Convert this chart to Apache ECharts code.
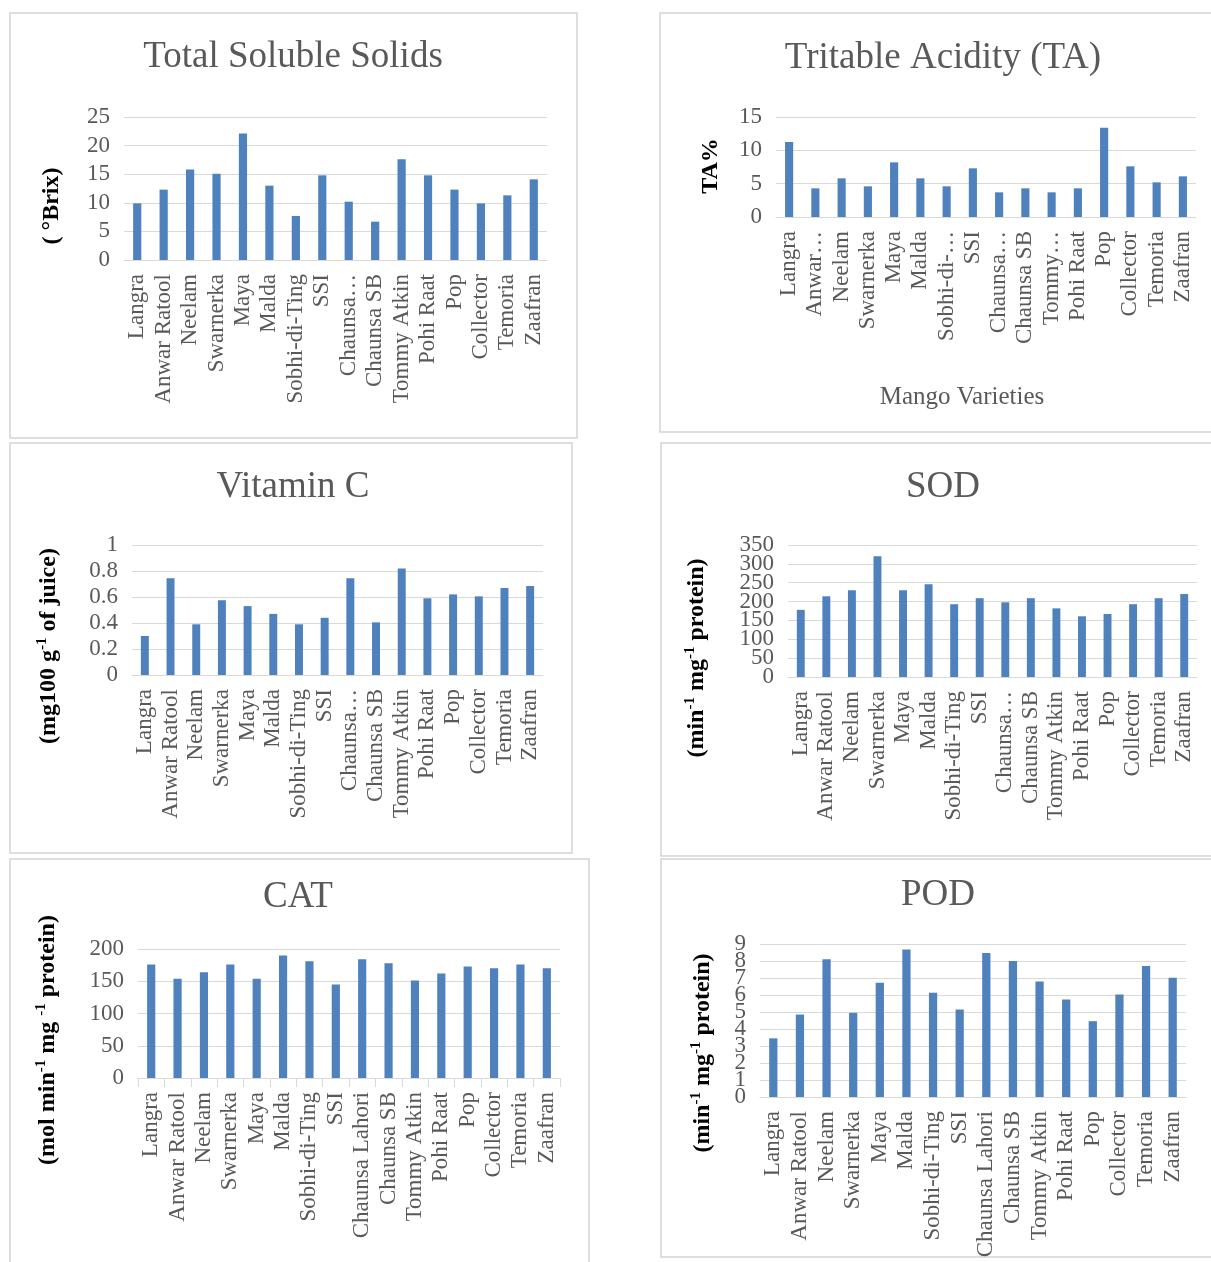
<!DOCTYPE html>
<html>
<head>
<meta charset="utf-8">
<script src="https://cdn.jsdelivr.net/npm/echarts@6/dist/echarts.min.js"></script>
<style>
html,body{margin:0;padding:0;background:#fff;}
#chart{width:1211px;height:1262px;}
</style>
</head>
<body>
<div id="chart"></div>
<script>
// ---- DATA ----
const varieties = ['Langra','Anwar Ratool','Neelam','Swarnerka','Maya','Malda','Sobhi-di-Ting','SSI','Chaunsa Lahori','Chaunsa SB','Tommy Atkin','Pohi Raat','Pop','Collector','Temoria','Zaafran'];
const labelsShort = ['Langra','Anwar Ratool','Neelam','Swarnerka','Maya','Malda','Sobhi-di-Ting','SSI','Chaunsa…','Chaunsa SB','Tommy Atkin','Pohi Raat','Pop','Collector','Temoria','Zaafran'];
const labelsTA = ['Langra','Anwar…','Neelam','Swarnerka','Maya','Malda','Sobhi-di-…','SSI','Chaunsa…','Chaunsa SB','Tommy…','Pohi Raat','Pop','Collector','Temoria','Zaafran'];
const labelsFull = varieties;

const tssValues = [9.9, 12.3, 15.8, 15.1, 22.1, 13.0, 7.7, 14.8, 10.2, 6.7, 17.6, 14.8, 12.3, 9.9, 11.3, 14.1];
const taValues = [11.25, 4.3, 5.8, 4.6, 8.2, 5.8, 4.6, 7.3, 3.7, 4.3, 3.7, 4.3, 13.4, 7.6, 5.2, 6.1];
const vitCValues = [0.30, 0.745, 0.39, 0.575, 0.53, 0.47, 0.39, 0.44, 0.745, 0.405, 0.82, 0.59, 0.62, 0.605, 0.67, 0.685];
const sodValues = [178, 214, 230, 320, 230, 246, 193, 209, 198, 209, 182, 161, 167, 193, 209, 220];
const catValues = [176, 154, 164, 176, 154, 190, 181, 145, 184, 178, 151, 162, 173, 170, 176, 170];
const podValues = [3.45, 4.85, 8.1, 4.95, 6.72, 8.68, 6.13, 5.15, 8.47, 8.0, 6.8, 5.74, 4.46, 6.03, 7.7, 7.01];

const titles = ['Total Soluble Solids','Tritable Acidity (TA)','Vitamin C','SOD','CAT','POD'];
const yMax = [25, 15, 1, 350, 200, 9];
const yInterval = [5, 5, 0.2, 50, 50, 1];

// ---- LAYOUT ----
const FONT = "'Liberation Serif','Times New Roman',serif";
const GREY = '#595959';
const GRIDC = '#d9d9d9';
const BAR = '#4f81bd';

const panels = [
  {box:[10,13,567,425], grid:{left:124,top:117,width:423,height:143}, title:[293,57], labels:labelsShort, values:tssValues},
  {box:[660,13,560,419], grid:{left:776,top:117,width:420,height:100}, title:[943,58], labels:labelsTA, values:taValues},
  {box:[10,443,562,410], grid:{left:132,top:545,width:411,height:130}, title:[293,487], labels:labelsShort, values:vitCValues},
  {box:[661,443,560,413], grid:{left:788,top:545,width:409,height:132}, title:[943,487], labels:labelsShort, values:sodValues},
  {box:[10,859,579,410], grid:{left:138,top:949,width:422,height:129}, title:[298,897], labels:labelsFull, values:catValues, ticks:true},
  {box:[661,859,560,398], grid:{left:760,top:944,width:426,height:153}, title:[938,895], labels:labelsFull, values:podValues}
];

const yNames = [
  {x:52, y:206, text:'{b|( °Brix)}'},
  {x:711, y:166, text:'{b|TA%}'},
  {x:49, y:646, text:'{b|(mg100 g}{s|-1}{b| of juice)}'},
  {x:697, y:658, text:'{b|(min}{s|-1}{b| mg}{s|-1}{b| protein)}'},
  {x:48, y:1040, text:'{b|(mol min}{s|-1}{b| mg }{s|-1}{b| protein)}'},
  {x:703, y:1053, text:'{b|(min}{s|-1}{b| mg}{s|-1}{b| protein)}'}
];

const richStyle = {
  b:{fontFamily:FONT, fontWeight:'bold', fontSize:24, color:GREY, lineHeight:28},
  s:{fontFamily:FONT, fontWeight:'bold', fontSize:15, color:GREY, verticalAlign:'top', lineHeight:16}
};

// two stacked value axes per grid (even / odd tick labels) so that crowded labels all stay visible
function yAxisFor(i, parity, primary){
  return {
    type:'value', gridIndex:i, position:'left', offset:0, min:0, max:yMax[i], interval:yInterval[i],
    axisLine:{show:false}, axisTick:{show:false},
    splitLine:{show:primary, lineStyle:{color:GRIDC, width:1}},
    axisLabel:{
      margin:14, fontFamily:FONT, fontSize:23, color:GREY, showMinLabel:true, showMaxLabel:true, hideOverlap:false,
      formatter:(v, idx)=> (idx % 2 === parity ? String(v) : '')
    }
  };
}

const option = {
  backgroundColor:'#ffffff',
  animation:false,
  title: panels.map((p,i)=>({
    text: titles[i], left:p.title[0], top:p.title[1], textAlign:'center', textVerticalAlign:'middle', padding:0,
    textStyle:{fontFamily:FONT, fontSize:37, fontWeight:'normal', color:GREY}
  })),
  grid: panels.map(p=>Object.assign({}, p.grid)),
  xAxis: panels.map((p,i)=>({
    type:'category', gridIndex:i, data:p.labels,
    axisLine:{show:true, lineStyle:{color:GRIDC, width:1}},
    axisTick:{show:!!p.ticks, alignWithLabel:false, length:9, lineStyle:{color:GRIDC}},
    axisLabel:{interval:0, rotate:90, margin:14, fontFamily:FONT, fontSize:23, color:GREY, hideOverlap:false}
  })),
  yAxis: panels.map((p,i)=>yAxisFor(i, 0, true)).concat(panels.map((p,i)=>yAxisFor(i, 1, false))),
  series: panels.map((p,i)=>({
    type:'bar', xAxisIndex:i, yAxisIndex:i, data:p.values, barWidth:'31%',
    itemStyle:{color:BAR}
  })),
  graphic: [].concat(
    panels.map(p=>({
      type:'rect', silent:true, z:-1,
      shape:{x:p.box[0], y:p.box[1], width:p.box[2], height:p.box[3]},
      style:{fill:'none', stroke:'#d4d4d4', lineWidth:1.5}
    })),
    yNames.map(n=>({
      type:'text', x:n.x, y:n.y, rotation:Math.PI/2,
      style:{text:n.text, rich:richStyle, align:'center', verticalAlign:'middle'}
    })),
    [{
      type:'text', x:962, y:397,
      style:{text:'Mango Varieties', fontFamily:FONT, fontSize:25, fill:GREY, align:'center', verticalAlign:'middle'}
    }]
  )
};

const chart = echarts.init(document.getElementById('chart'), null, {renderer:'canvas'});
chart.setOption(option);
</script>
</body>
</html>
